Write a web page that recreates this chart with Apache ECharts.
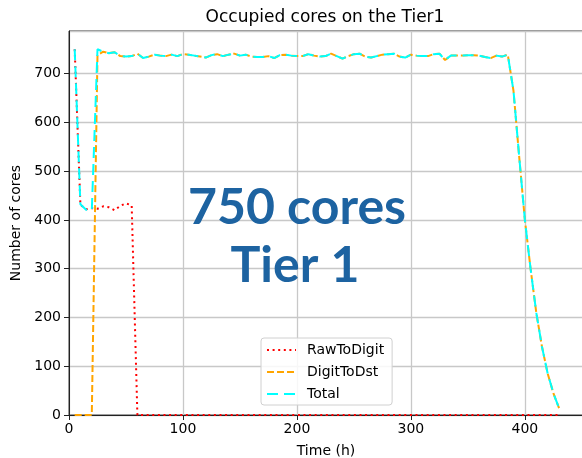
<!DOCTYPE html>
<html>
<head>
<meta charset="utf-8">
<script src="https://cdn.jsdelivr.net/npm/echarts@6/dist/echarts.min.js"></script>
<style>html,body{margin:0;padding:0;background:#fff}#c{width:582px;height:458px}</style>
</head>
<body>
<div id="c"></div>
<script>
const hours = [5,10,15,20,25,30,35,40,45,50,
  55,60,65,70,75,80,85,90,95,100,
  105,110,115,120,125,130,135,140,145,150,
  155,160,165,170,175,180,185,190,195,200,
  205,210,215,220,225,230,235,240,245,250,
  255,260,265,270,275,280,285,290,295,300,
  305,310,315,320,325,330,335,340,345,350,
  355,360,365,370,375,380,385,390,395,400,
  405,410,415,420,425,430];
const rawToDigit = [750,431,422,424,423,428,426,420,429,434,
  430,0,0,0,0,0,0,0,0,0,
  0,0,0,0,0,0,0,0,0,0,
  0,0,0,0,0,0,0,0,0,0,
  0,0,0,0,0,0,0,0,0,0,
  0,0,0,0,0,0,0,0,0,0,
  0,0,0,0,0,0,0,0,0,0,
  0,0,0,0,0,0,0,0,0,0,
  0,0,0,0,0,0];
const digitToDst = [0,0,0,0,738,745,742,744,736,735,
  736,741,732,735,739,737,736,739,736,740,
  739,737,735,733,738,740,736,739,741,737,
  739,735,734,734,736,732,738,739,737,736,
  736,740,737,735,736,741,736,731,736,740,
  741,735,733,736,739,740,741,735,733,739,
  737,736,736,740,741,728,737,737,737,738,
  738,737,734,732,737,735,739,665,530,400,
  300,210,140,85,45,14];
const total = [750,432,421,420,750,745,742,744,736,735,
  736,741,732,735,739,737,736,739,736,740,
  739,737,735,733,738,740,736,739,741,737,
  739,735,734,734,736,732,738,739,737,736,
  736,740,737,735,736,741,736,731,736,740,
  741,735,733,736,739,740,741,735,733,739,
  737,736,736,740,741,728,737,737,737,738,
  738,737,734,732,737,735,739,665,530,400,
  300,210,140,85,45,14];
const seriesNames = ['RawToDigit','DigitToDst','Total'];
const titleText = 'Occupied cores on the Tier1';
const xLabel = 'Time (h)';
const yLabel = 'Number of cores';
const bigText = ['750 cores','Tier 1'];

const pairs = (ys) => hours.map((h,i)=>[h, ys[i]]);
const FONT = 'DejaVu Sans';
const chart = echarts.init(document.getElementById('c'), null, {renderer:'canvas'});
chart.setOption({
  animation:false,
  backgroundColor:'#fff',
  title:{text:titleText, left:325, top:9, padding:0, textAlign:'center',
    textStyle:{fontFamily:FONT, fontSize:17, fontWeight:'normal', color:'#000'}},
  grid:{left:69, right:-1, top:31, bottom:43, show:true, borderColor:'#222', borderWidth:1,
    backgroundColor:'transparent', containLabel:false, outerBoundsMode:'none'},
  xAxis:{type:'value', min:0, max:451, interval:100,
    name:xLabel, nameLocation:'middle', nameGap:29,
    nameTextStyle:{fontFamily:FONT, fontSize:14, color:'#000'},
    axisLine:{show:true, onZero:false, lineStyle:{color:'#222', width:1}},
    axisTick:{show:true, inside:false, length:5, lineStyle:{color:'#222'}},
    axisLabel:{showMaxLabel:false, margin:7, fontFamily:FONT, fontSize:14, color:'#000'},
    splitLine:{show:true, lineStyle:{color:'#c8c8c8', width:1.3}}},
  yAxis:{type:'value', min:0, max:787.5, interval:100,
    name:yLabel, nameLocation:'middle', nameGap:45, nameRotate:90,
    nameTextStyle:{fontFamily:FONT, fontSize:14, color:'#000'},
    axisLine:{show:true, lineStyle:{color:'#222', width:1}},
    axisTick:{show:true, inside:false, length:5, lineStyle:{color:'#222'}},
    axisLabel:{showMaxLabel:false, margin:8, fontFamily:FONT, fontSize:14, color:'#000'},
    splitLine:{show:true, lineStyle:{color:'#c8c8c8', width:1.3}}},
  legend:{orient:'vertical', left:261, top:338, itemWidth:29, itemHeight:14, itemGap:8,
    padding:[5,8,4,5], backgroundColor:'rgba(255,255,255,0.85)', borderColor:'#d0d0d0', borderWidth:1, borderRadius:3,
    itemStyle:{color:'rgba(0,0,0,0)', borderWidth:0, opacity:0},
    textStyle:{fontFamily:FONT, fontSize:14, color:'#000', padding:[0,0,0,6]},
    data:seriesNames},
  graphic:[
    {type:'text', style:{text:bigText[0], x:297, y:208, font:'bold 50px Lato', fill:'#1d63a1', textAlign:'center', textVerticalAlign:'middle'}, z:100},
    {type:'text', style:{text:bigText[1], x:295, y:266, font:'bold 50px Lato', fill:'#1d63a1', textAlign:'center', textVerticalAlign:'middle'}, z:100}
  ],
  series:[
    {name:seriesNames[0], type:'line', symbol:'none', data:pairs(rawToDigit),
      lineStyle:{color:'#ff0000', width:2, type:[2,3.6], cap:'butt'}, itemStyle:{color:'#ff0000'}},
    {name:seriesNames[1], type:'line', symbol:'none', data:pairs(digitToDst),
      lineStyle:{color:'#ffa500', width:2, type:[7,3], cap:'butt'}, itemStyle:{color:'#ffa500'}},
    {name:seriesNames[2], type:'line', symbol:'none', data:pairs(total),
      lineStyle:{color:'#00ffff', width:2, type:[11,6], cap:'butt'}, itemStyle:{color:'#00ffff'}}
  ]
});
</script>
</body>
</html>
